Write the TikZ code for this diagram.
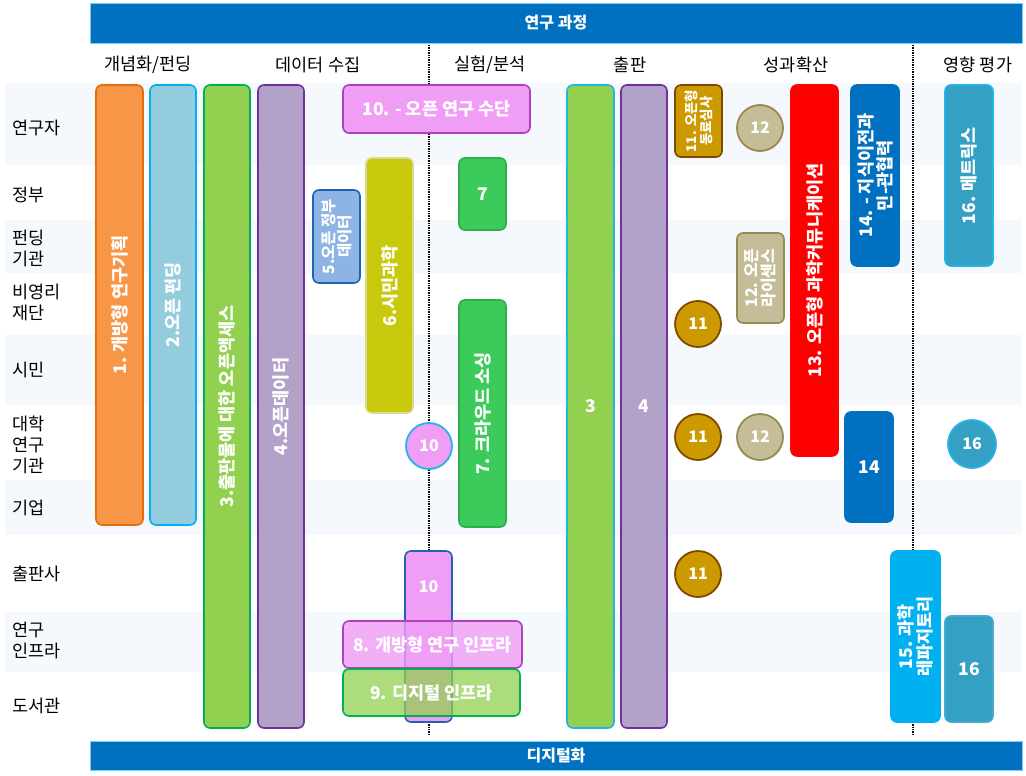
\documentclass[tikz,border=0pt]{standalone}
\usepackage{fontspec}
\setmainfont{Noto Sans CJK KR}
\definecolor{mainblue}{HTML}{0070C0}
\definecolor{bandcol}{HTML}{F5F9FD}
\definecolor{orfill}{HTML}{F79646}\definecolor{orline}{HTML}{E46C0A}
\definecolor{skyfill}{HTML}{93CDDD}\definecolor{skyline}{HTML}{00B0F0}
\definecolor{grfill}{HTML}{92D050}\definecolor{grline}{HTML}{00B050}
\definecolor{pufill}{HTML}{B3A2C7}\definecolor{puline}{HTML}{7030A0}
\definecolor{gvfill}{HTML}{8DB4E2}\definecolor{gvline}{HTML}{1F64B4}
\definecolor{cifill}{HTML}{C8C80C}\definecolor{ciline}{HTML}{D9DB8C}
\definecolor{crfill}{HTML}{3CCB5A}\definecolor{crline}{HTML}{2DAE4B}
\definecolor{pkfill}{HTML}{F09EF5}\definecolor{pkline}{HTML}{B040C0}
\definecolor{cyline}{HTML}{22B4E6}
\definecolor{pvfill}{HTML}{CC9900}\definecolor{pvline}{HTML}{7F4A00}
\definecolor{lcfill}{HTML}{C4BD97}\definecolor{lcline}{HTML}{948A54}
\definecolor{mefill}{HTML}{34A0C4}
\tikzstyle{band}=[fill=bandcol]
\tikzstyle{wideband}=[fill=mainblue,draw=cyline!60,line width=0.6pt,text=white,font=\bfseries\fontsize{16}{18}\selectfont,minimum width=932,inner sep=0]
\tikzstyle{colhead}=[font=\fontsize{17.5}{20}\selectfont]
\tikzstyle{rowlabel}=[anchor=west,align=left,inner sep=0,font=\fontsize{17.5}{21}\selectfont]
\tikzstyle{divider}=[line width=1.4pt,densely dotted]
\tikzstyle{vbar}=[rectangle,rounded corners=6pt,line width=1.6pt,rotate=90,align=center,inner sep=0,text=white,font=\bfseries\fontsize{17.5}{19}\selectfont]
\tikzstyle{hbar}=[rectangle,rounded corners=6pt,line width=1.6pt,inner sep=0,text=white,font=\bfseries\fontsize{17.5}{19}\selectfont]
\tikzstyle{numdot}=[circle,minimum size=46,line width=1.8pt,inner sep=0,text=white,font=\bfseries\fontsize{16}{18}\selectfont]
\tikzstyle{numtext}=[text=white,font=\bfseries\fontsize{16}{18}\selectfont]
\begin{document}
\begin{tikzpicture}[x=1pt,y=-1pt]
\useasboundingbox (0,0) rectangle (1026,776);

% row bands
\foreach \ya/\yb in {83/165,220/273,335/405,480/535,612/672}{
	\fill[band] (5,\ya) rectangle (1022,\yb);}

\node[wideband,minimum height=40] (process) at (556,23) {연구 과정};
\node[wideband,minimum height=29] (digital) at (556,755.5) {디지털화};

\node[colhead] (h1) at (148,65) {개념화/펀딩};
\node[colhead] (h2) at (318,65) {데이터 수집};
\node[colhead] (h3) at (490,65) {실험/분석};
\node[colhead] (h4) at (630,65) {출판};
\node[colhead] (h5) at (796,65) {성과확산};
\node[colhead] (h6) at (978,65) {영향 평가};

\node[rowlabel] (r1) at (12,128) {연구자};
\node[rowlabel] (r2) at (12,195) {정부};
\node[rowlabel] (r3) at (12,248) {펀딩\\기관};
\node[rowlabel] (r4) at (12,302) {비영리\\재단};
\node[rowlabel] (r5) at (12,370) {시민};
\node[rowlabel] (r6) at (12,445) {대학\\연구\\기관};
\node[rowlabel] (r7) at (12,508) {기업};
\node[rowlabel] (r8) at (12,574) {출판사};
\node[rowlabel] (r9) at (12,640) {연구\\인프라};
\node[rowlabel] (r10) at (12,706) {도서관};

\draw[divider] (429,45)--(429,735);
\draw[divider] (913,45)--(913,735);

% concept / funding
\node[vbar,fill=orfill,draw=orline,minimum width=440,minimum height=47] (b1) at (119.5,305) {1. 개방형 연구기획};
\node[vbar,fill=skyfill,draw=skyline,minimum width=440,minimum height=46] (b2) at (173,305) {2.오픈 펀딩};
\node[vbar,fill=grfill,draw=grline,minimum width=643,minimum height=46] (b3) at (227,406.5) {3.출판물에 대한 오픈액세스};
\node[vbar,fill=pufill,draw=puline,minimum width=643,minimum height=46] (b4) at (281,406.5) {4.오픈데이터};

% data collection
\node[vbar,fill=gvfill,draw=gvline,minimum width=93,minimum height=47,font=\bfseries\fontsize{15.5}{16.5}\selectfont] (b5) at (336.5,236.5) {5.오픈 정부\\데이터};
\node[vbar,fill=cifill,draw=ciline,minimum width=255,minimum height=47] (b6) at (389.5,285.5) {6.시민과학};
\node[hbar,fill=pkfill,draw=pkline,minimum width=187,minimum height=48] (b10) at (436.5,109) {10. - 오픈 연구 수단};
\node[numdot,fill=pkfill,draw=cyline] (c10) at (429,446) {10};
\node[hbar,fill=pkfill,draw=gvline,minimum width=47,minimum height=171] (v10) at (428.5,636.5) {};
\node[numtext] (v10lab) at (428.5,587) {10};
\node[hbar,fill=pkfill,fill opacity=0.8,text opacity=1,draw=pkline,minimum width=179,minimum height=47] (b8) at (432.5,644.5) {8. 개방형 연구 인프라};
\node[hbar,fill=grfill,fill opacity=0.75,text opacity=1,draw=grline,minimum width=177,minimum height=47] (b9) at (431.5,692.5) {9. 디지털 인프라};

% experiment / analysis
\node[hbar,fill=crfill,draw=crline,minimum width=47,minimum height=72] (b7a) at (482.5,194) {7};
\node[vbar,fill=crfill,draw=crline,minimum width=227,minimum height=47] (b7b) at (482.5,413.5) {7. 크라우드 소싱};

% publication
\node[vbar,fill=grfill,draw=cyline,minimum width=643,minimum height=47] (p3) at (590.5,406.5) {\rotatebox{-90}{3}};
\node[vbar,fill=pufill,draw=puline,minimum width=643,minimum height=46] (p4) at (644,406.5) {\rotatebox{-90}{4}};

% dissemination
\node[vbar,fill=pvfill,draw=pvline,minimum width=72,minimum height=47,font=\bfseries\fontsize{13.5}{15}\selectfont] (b11) at (698.5,121) {11. 오픈형\\동료심사};
\foreach \y [count=\i] in {324,437,574}{
	\node[numdot,fill=pvfill,draw=pvline] (c11\i) at (698,\y) {11};}
\node[numdot,fill=lcfill,draw=lcline] (c12a) at (760,128) {12};
\node[numdot,fill=lcfill,draw=lcline] (c12b) at (760,437) {12};
\node[vbar,fill=lcfill,draw=lcline,minimum width=90,minimum height=47,font=\bfseries\fontsize{16}{17}\selectfont] (b12) at (760.5,278) {12. 오픈\\라이센스};
\node[vbar,fill=red,draw=red,minimum width=371,minimum height=47] (b13) at (814.5,270.5) {13. 오픈형 과학커뮤니케이션};
\node[vbar,fill=mainblue,draw=mainblue,minimum width=181,minimum height=48] (b14) at (875,175.5) {14. - 지식이전과\\민-관협력};
\node[hbar,fill=mainblue,draw=mainblue,minimum width=48,minimum height=110] (s14) at (869,467) {14};

% impact
\node[vbar,fill=skyline,draw=skyline,minimum width=171,minimum height=49] (b15) at (915.5,636.5) {15. 과학\\레파지토리};
\node[vbar,fill=mefill,draw=cyline,minimum width=181,minimum height=48] (b16) at (969,175.5) {16. 메트릭스};
\node[numdot,fill=mefill,draw=cyline,minimum size=48] (c16) at (972,444) {16};
\node[hbar,fill=mefill,draw=mefill!90,minimum width=48,minimum height=106] (s16) at (969,669) {16};
\end{tikzpicture}
\end{document}
